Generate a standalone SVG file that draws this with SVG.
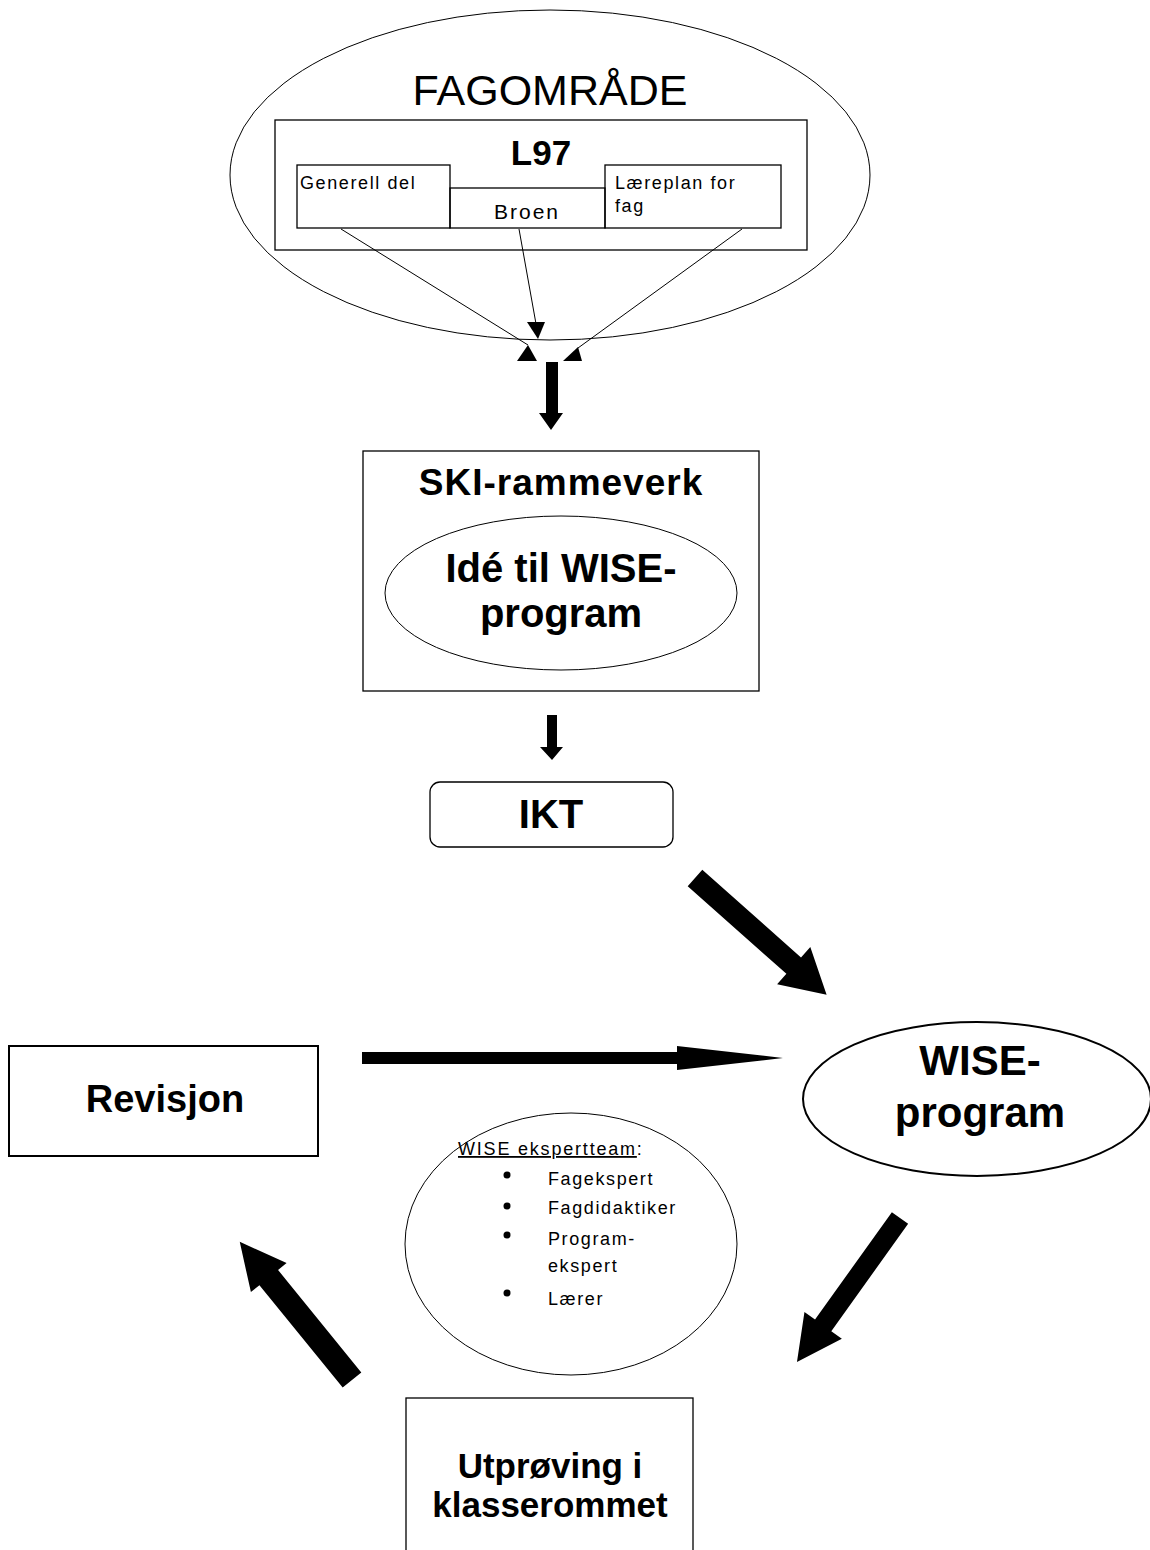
<svg xmlns="http://www.w3.org/2000/svg" width="1150" height="1550" viewBox="0 0 1150 1550">
<style>
.ln{fill:none;stroke:#000;stroke-width:1.3}
.thk{fill:none;stroke:#000;stroke-width:2}
.fill{fill:#000;stroke:none}
.thin{fill:none;stroke:#000;stroke-width:1}
text{font-family:"Liberation Sans",Arial,sans-serif;fill:#000}
.b{font-weight:bold;text-anchor:middle}
.r{letter-spacing:1.6px}
</style>
<rect width="1150" height="1550" fill="#fff"/>
<g id="fagomrade">
<ellipse cx="550" cy="175" rx="320" ry="165" class="thin"/>
<text x="550" y="105" font-size="43" text-anchor="middle">FAGOMRÅDE</text>
</g>
<g id="l97">
<rect x="275" y="120" width="532" height="130" class="ln"/>
<text x="541" y="165" font-size="35" class="b">L97</text>
</g>
<g id="generell">
<rect x="297" y="165" width="153" height="63" class="ln"/>
<text x="300" y="189" font-size="18" class="r">Generell del</text>
</g>
<g id="broen">
<rect x="450" y="188" width="155" height="40" class="ln"/>
<text x="527" y="219" font-size="21" text-anchor="middle" letter-spacing="2">Broen</text>
</g>
<g id="laereplan">
<rect x="605" y="165" width="176" height="63" class="ln"/>
<text x="615" y="189" font-size="18" class="r">Læreplan for</text>
<text x="615" y="212" font-size="18" class="r">fag</text>
</g>
<g id="ski">
<rect x="363" y="451" width="396" height="240" class="ln"/>
<text x="561" y="495" font-size="37" class="b" letter-spacing="1">SKI-rammeverk</text>
</g>
<g id="ide">
<ellipse cx="561" cy="593" rx="176" ry="77" class="thin"/>
<text x="561" y="582" font-size="40" class="b">Idé til WISE-</text>
<text x="561" y="627" font-size="40" class="b">program</text>
</g>
<g id="ikt">
<rect x="430" y="782" width="243" height="65" rx="10" ry="10" class="ln"/>
<text x="551" y="828" font-size="40" class="b">IKT</text>
</g>
<g id="wise">
<ellipse cx="977" cy="1099" rx="174" ry="77" class="thk"/>
<text x="980" y="1075" font-size="42" class="b">WISE-</text>
<text x="980" y="1127" font-size="42" class="b">program</text>
</g>
<g id="revisjon">
<rect x="9" y="1046" width="309" height="110" class="thk" stroke="#222"/>
<text x="165" y="1112" font-size="38" class="b">Revisjon</text>
</g>
<g id="eksperteam">
<ellipse cx="571" cy="1244" rx="166" ry="131" class="thin"/>
<text x="458" y="1155" font-size="18" letter-spacing="1.8"><tspan text-decoration="underline">WISE ekspertteam</tspan>:</text>
<circle cx="507" cy="1175" r="3.5" class="fill"/>
<circle cx="507" cy="1206" r="3.5" class="fill"/>
<circle cx="507" cy="1235" r="3.5" class="fill"/>
<circle cx="507" cy="1293" r="3.5" class="fill"/>
<text x="548" y="1185" font-size="18" class="r">Fagekspert</text>
<text x="548" y="1214" font-size="18" class="r">Fagdidaktiker</text>
<text x="548" y="1245" font-size="18" class="r">Program-</text>
<text x="548" y="1272" font-size="18" class="r">ekspert</text>
<text x="548" y="1305" font-size="18" class="r">Lærer</text>
</g>
<g id="utproving">
<rect x="406" y="1398" width="287" height="170" class="ln"/>
<text x="550" y="1478" font-size="35" class="b">Utprøving i</text>
<text x="550" y="1517" font-size="35" class="b">klasserommet</text>
</g>
<g id="connectors">
<line x1="341" y1="229" x2="528" y2="345" class="thin"/>
<line x1="519" y1="229" x2="538" y2="335" class="thin"/>
<line x1="742" y1="229" x2="578" y2="348" class="thin"/>
<polygon points="527,322 545,322 538,339" class="fill"/>
<polygon points="528,345 517,361 537,361" class="fill"/>
<polygon points="578,347 563,361 582,361" class="fill"/>
<polygon points="546,362 558,362 558,413 563,413 551,430 539,413 546,413" class="fill"/>
<polygon points="547,715 557,715 557,747 563,747 552,760 540,747 547,747" class="fill"/>
<polygon transform="translate(695,878) rotate(41.6)" points="0,-11 132,-11 132,-25 176,0 132,25 132,11 0,11" class="fill"/>
<polygon transform="translate(900,1218) rotate(125.6)" points="0,-10 132,-10 132,-23 177,0 132,23 132,10 0,10" class="fill"/>
<polygon transform="translate(352,1380) rotate(-129.1)" points="0,-12 132,-12 132,-23 178,0 132,23 132,12 0,12" class="fill"/>
<polygon points="362,1052 677,1052 677,1046 783,1058 677,1070 677,1064 362,1064" class="fill"/>
</g>
</svg>
